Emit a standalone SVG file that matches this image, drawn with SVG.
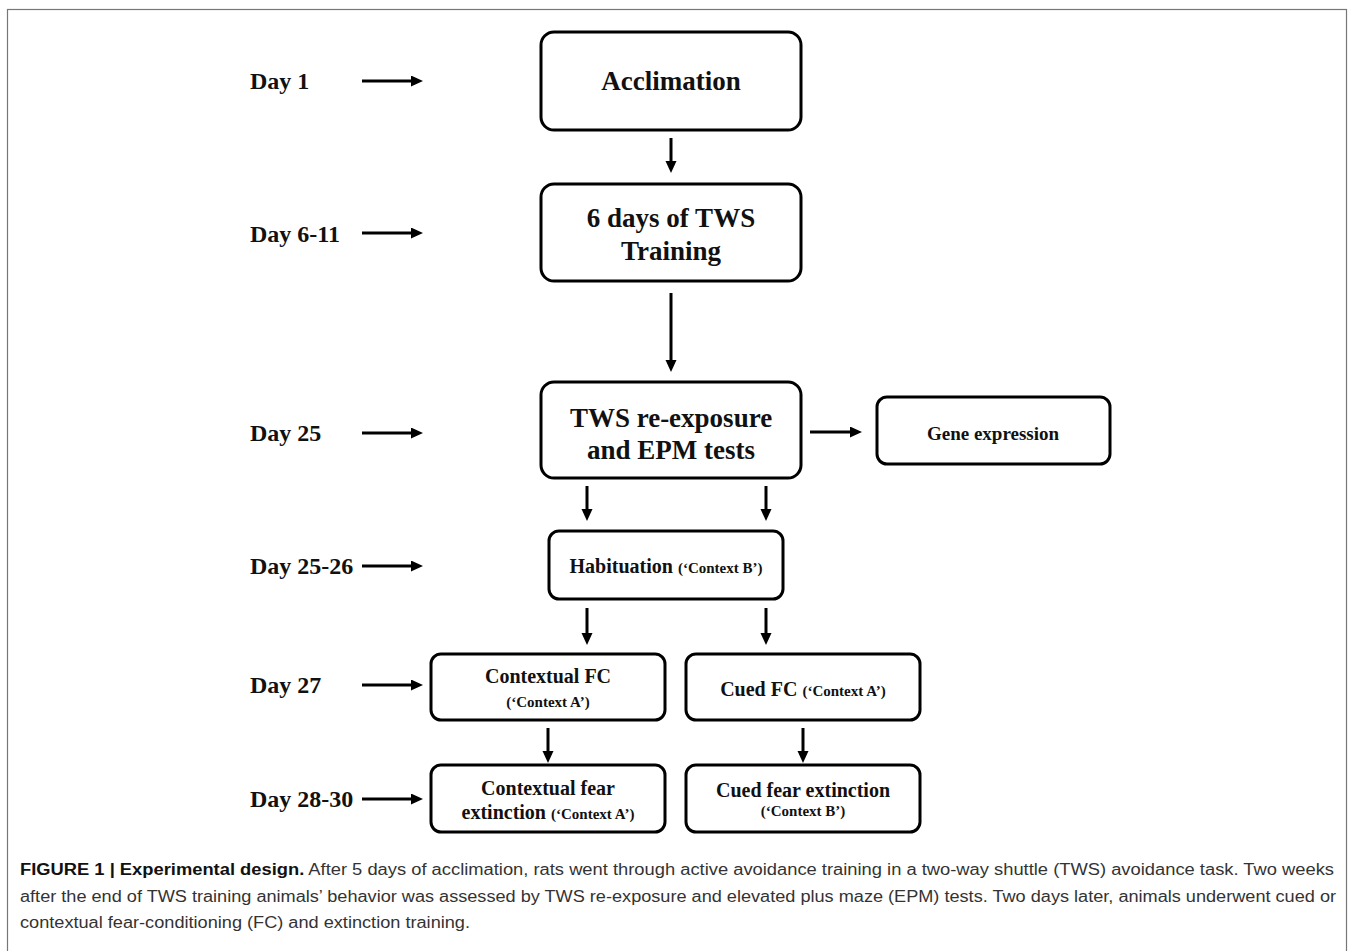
<svg xmlns="http://www.w3.org/2000/svg" width="1354" height="951" viewBox="0 0 1354 951">
<style>
.box{fill:#fff;stroke:#000;stroke-width:3}
.day{font-family:"Liberation Serif",serif;font-weight:bold;font-size:24px;fill:#111}
.big{font-family:"Liberation Serif",serif;font-weight:bold;font-size:27px;fill:#111;text-anchor:middle}
.mid{font-family:"Liberation Serif",serif;font-weight:bold;font-size:20px;fill:#111;text-anchor:middle}
.sm{font-size:15px}
.con{stroke:#000;stroke-width:3;fill:none;marker-end:url(#ah)}
.cap{font-family:"Liberation Sans",sans-serif;font-size:16px;fill:#333}
</style>
<defs>
<marker id="ah" markerUnits="userSpaceOnUse" markerWidth="14" markerHeight="14" refX="2" refY="5.5" orient="auto">
<path d="M0,0 L12,5.5 L0,11 z" fill="#000"/>
</marker>
</defs>
<rect x="0" y="0" width="1354" height="951" fill="#fff"/>
<rect x="7.5" y="9.5" width="1339" height="945" fill="none" stroke="#777" stroke-width="1.2"/>

<g id="labels">
<text class="day" x="250" y="89">Day 1</text>
<text class="day" x="250" y="242">Day 6-11</text>
<text class="day" x="250" y="441">Day 25</text>
<text class="day" x="250" y="574">Day 25-26</text>
<text class="day" x="250" y="693">Day 27</text>
<text class="day" x="250" y="807">Day 28-30</text>
</g>

<g id="acclimation">
<rect class="box" x="541" y="32" width="260" height="98" rx="13"/>
<text class="big" x="671" y="90">Acclimation</text>
</g>
<g id="tws-training">
<rect class="box" x="541" y="184" width="260" height="97" rx="13"/>
<text class="big" x="671" y="227">6 days of TWS</text>
<text class="big" x="671" y="260">Training</text>
</g>
<g id="tws-reexposure">
<rect class="box" x="541" y="382" width="260" height="96" rx="13"/>
<text class="big" x="671" y="427">TWS re-exposure</text>
<text class="big" x="671" y="459">and EPM tests</text>
</g>
<g id="gene-expression">
<rect class="box" x="877" y="397" width="233" height="67" rx="10"/>
<text class="mid" x="993" y="440" style="font-size:19px">Gene expression</text>
</g>
<g id="habituation">
<rect class="box" x="549" y="531" width="234" height="68" rx="10"/>
<text class="mid" x="666" y="573">Habituation <tspan class="sm">(‘Context B’)</tspan></text>
</g>
<g id="contextual-fc">
<rect class="box" x="431" y="654" width="234" height="66" rx="10"/>
<text class="mid" x="548" y="683">Contextual FC</text>
<text class="mid sm" x="548" y="707">(‘Context A’)</text>
</g>
<g id="cued-fc">
<rect class="box" x="686" y="654" width="234" height="66" rx="10"/>
<text class="mid" x="803" y="696">Cued FC <tspan class="sm">(‘Context A’)</tspan></text>
</g>
<g id="contextual-ext">
<rect class="box" x="431" y="765" width="234" height="67" rx="10"/>
<text class="mid" x="548" y="795">Contextual fear</text>
<text class="mid" x="548" y="819">extinction <tspan class="sm">(‘Context A’)</tspan></text>
</g>
<g id="cued-ext">
<rect class="box" x="686" y="765" width="234" height="67" rx="10"/>
<text class="mid" x="803" y="797">Cued fear extinction</text>
<text class="mid sm" x="803" y="816">(‘Context B’)</text>
</g>

<g id="connectors">
<path class="con" d="M362,81 H413"/>
<path class="con" d="M362,233 H413"/>
<path class="con" d="M362,433 H413"/>
<path class="con" d="M362,566 H413"/>
<path class="con" d="M362,685 H413"/>
<path class="con" d="M362,799 H413"/>
<path class="con" d="M671,138 V163"/>
<path class="con" d="M671,293 V362"/>
<path class="con" d="M810,432 H852"/>
<path class="con" d="M587,486 V511"/>
<path class="con" d="M766,486 V511"/>
<path class="con" d="M587,608 V635"/>
<path class="con" d="M766,608 V635"/>
<path class="con" d="M548,728 V753"/>
<path class="con" d="M803,728 V753"/>
</g>

<g id="caption">
<text class="cap" x="20" y="875" textLength="1314" lengthAdjust="spacingAndGlyphs"><tspan font-weight="bold" fill="#111">FIGURE 1 | Experimental design.</tspan> After 5 days of acclimation, rats went through active avoidance training in a two-way shuttle (TWS) avoidance task. Two weeks</text>
<text class="cap" x="20" y="902" textLength="1316" lengthAdjust="spacingAndGlyphs">after the end of TWS training animals’ behavior was assessed by TWS re-exposure and elevated plus maze (EPM) tests. Two days later, animals underwent cued or</text>
<text class="cap" x="20" y="928" textLength="450" lengthAdjust="spacingAndGlyphs">contextual fear-conditioning (FC) and extinction training.</text>
</g>
</svg>
